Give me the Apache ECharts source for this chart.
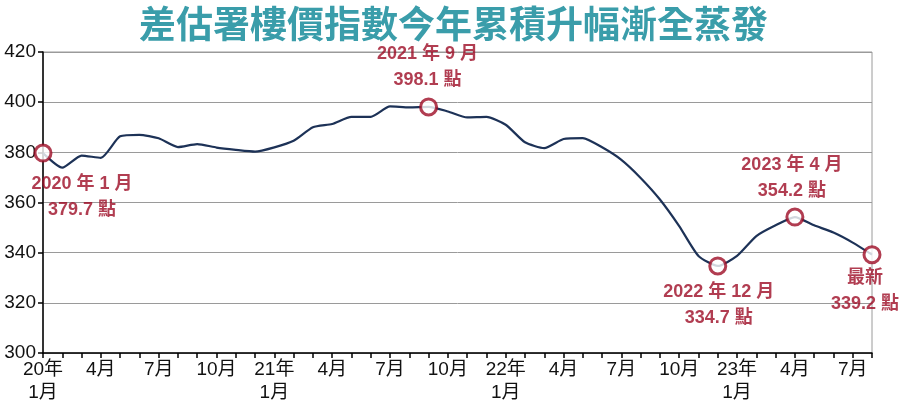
<!DOCTYPE html>
<html>
<head>
<meta charset="utf-8">
<script src="https://cdn.jsdelivr.net/npm/echarts@6/dist/echarts.min.js"></script>
<style>
html,body{margin:0;padding:0;background:#fff;}
#chart{width:907px;height:404px;}
</style>
</head>
<body>
<div id="chart"></div>
<script>
const titleText = '差估署樓價指數今年累積升幅漸全蒸發';

const categories = [
  '20年\n1月','2月','3月','4月','5月','6月','7月','8月','9月','10月','11月','12月',
  '21年\n1月','2月','3月','4月','5月','6月','7月','8月','9月','10月','11月','12月',
  '22年\n1月','2月','3月','4月','5月','6月','7月','8月','9月','10月','11月','12月',
  '23年\n1月','2月','3月','4月','5月','6月','7月','8月'
];

const values = [
  379.7, 373.9, 378.7, 377.8, 386.4, 387.0, 385.6, 382.1, 383.3, 381.9, 381.0, 380.3,
  382.0, 384.6, 390.0, 391.3, 394.1, 394.1, 398.3, 397.9, 398.1, 396.3, 393.9, 394.1,
  391.0, 384.0, 381.7, 385.3, 385.7, 382.0, 377.0, 369.8, 361.2, 350.6, 338.7, 334.7,
  338.7, 346.6, 350.9, 354.2, 350.9, 348.0, 344.0, 339.2
];

const yTicks = [300, 320, 340, 360, 380, 400, 420];

const highlightIndex = [0, 20, 35, 39, 43];
const highlightTitle = ['2020 年 1 月', '2021 年 9 月', '2022 年 12 月', '2023 年 4 月', '最新'];

// label offsets (styling, relative to marker)
const labelOffsets = [[39, 44], [-1, -40], [1, 39], [-3, -39], [-7, 36]];

const FONT = '"Liberation Sans", Arial, "Noto Sans CJK TC", sans-serif';
const RED = '#9e0d26';

const scatterData = highlightIndex.map((idx, k) => ({
  value: [idx, values[idx]],
  label: {
    show: true,
    position: 'inside',
    offset: labelOffsets[k],
    formatter: highlightTitle[k] + '\n' + values[idx].toFixed(1) + ' 點'
  }
}));

const chart = echarts.init(document.getElementById('chart'), null, {renderer: 'canvas'});
chart.setOption({
  animation: false,
  backgroundColor: '#fff',
  title: {
    text: titleText,
    left: 'center',
    top: 0,
    textStyle: {
      color: '#3a9daa',
      fontSize: 37,
      fontWeight: 'bold',
      fontFamily: '"Noto Sans CJK TC", sans-serif'
    }
  },
  grid: {
    left: 43, right: 35, top: 52, bottom: 50,
    show: true, borderColor: '#9a9a9a', borderWidth: 1
  },
  xAxis: {
    type: 'category',
    data: categories,
    boundaryGap: false,
    axisLine: {lineStyle: {color: '#000', width: 1.5}},
    axisTick: {show: true, interval: 0, length: 5, lineStyle: {color: '#000', width: 1.5}},
    axisLabel: {
      interval: 2,
      color: '#111',
      fontSize: 19,
      lineHeight: 23,
      margin: 5,
      fontFamily: FONT
    },
    splitLine: {show: false}
  },
  yAxis: {
    type: 'value',
    min: yTicks[0],
    max: yTicks[yTicks.length - 1],
    interval: 20,
    axisLine: {show: true, lineStyle: {color: '#000', width: 1.5}},
    axisTick: {show: true, length: 5, lineStyle: {color: '#000', width: 1.5}},
    axisLabel: {color: '#111', fontSize: 19, margin: 7, fontFamily: FONT},
    splitLine: {show: true, lineStyle: {color: '#9a9a9a', width: 1}}
  },
  series: [
    {
      type: 'line',
      data: values,
      showSymbol: false,
      smooth: 0.2,
      lineStyle: {color: '#1d3257', width: 2.2},
      z: 2
    },
    {
      type: 'scatter',
      data: scatterData,
      symbol: 'circle',
      symbolSize: 16,
      itemStyle: {color: '#fff', borderColor: RED, borderWidth: 3},
      label: {
        color: RED,
        fontSize: 18,
        fontWeight: 'bold',
        lineHeight: 26,
        align: 'center',
        fontFamily: FONT
      },
      z: 5
    }
  ]
});
</script>
</body>
</html>
